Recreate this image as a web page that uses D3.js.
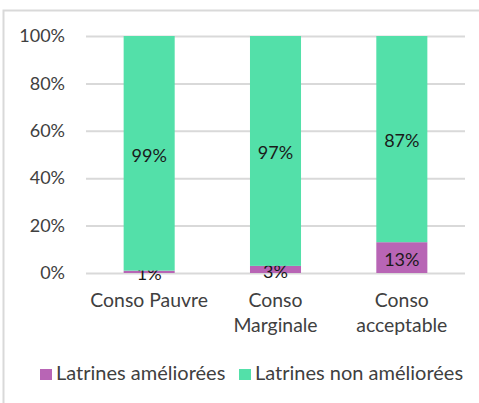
<!DOCTYPE html>
<html><head><meta charset="utf-8">
<script src="https://cdn.jsdelivr.net/npm/d3@7"></script>
<style>body{margin:0;background:#fff}svg{display:block;font-family:Lato,"Open Sans",sans-serif}</style>
</head><body><svg id="c" width="479" height="403"></svg>
<script>
const categories = [["Conso Pauvre"], ["Conso", "Marginale"], ["Conso", "acceptable"]];
const seriesNames = ["Latrines améliorées", "Latrines non améliorées"];
const ameliorees = [1, 3, 13];
const nonAmeliorees = [99, 97, 87];
const yTicks = [0, 20, 40, 60, 80, 100];
const colors = ["#B865B5", "#53E0A9"];

const svg = d3.select("#c");
const fs = 18;
svg.append("rect").attr("x", 3.5).attr("y", 10.5).attr("width", 500).attr("height", 420)
  .attr("fill", "none").attr("stroke", "#d9d9d9").attr("stroke-width", 2);

const x = d3.scaleBand().domain(d3.range(categories.length)).range([86, 465])
  .paddingInner(0.596).paddingOuter(0.298);
const y = d3.scaleLinear().domain([0, 100]).range([273, 36]);

const yAxis = d3.axisLeft(y).tickValues(yTicks).tickFormat(d => d + "%").tickSize(-(465 - 86)).tickPadding(21);
const gy = svg.append("g").attr("transform", "translate(86,0)").call(yAxis);
gy.select(".domain").remove();
gy.selectAll(".tick line").attr("stroke", "#d9d9d9").attr("stroke-width", 2);
gy.selectAll(".tick text").attr("fill", "#404040").attr("font-size", fs).attr("font-family", "Lato");

const stacks = d3.stack().keys([0, 1])(categories.map((c, i) => ({0: ameliorees[i], 1: nonAmeliorees[i]})));
stacks.forEach((s, k) => {
  const g = svg.append("g");
  g.selectAll("rect").data(s).join("rect")
    .attr("x", (d, i) => x(i)).attr("width", x.bandwidth())
    .attr("y", d => y(d[1])).attr("height", d => y(d[0]) - y(d[1]))
    .attr("fill", colors[k]);
  g.selectAll("text").data(s).join("text")
    .attr("x", (d, i) => x(i) + x.bandwidth() / 2)
    .attr("y", d => Math.min((y(d[0]) + y(d[1])) / 2 + 3, 275) - 1)
    .attr("dy", "0.35em").attr("text-anchor", "middle")
    .attr("fill", "#1a1a1a").attr("font-size", fs)
    .text(d => (d[1] - d[0]) + "%");
});

const gx = svg.append("g");
categories.forEach((lines, i) => {
  const t = gx.append("text").attr("x", x(i) + x.bandwidth() / 2).attr("y", 307)
    .attr("text-anchor", "middle").attr("fill", "#404040").attr("font-size", 19.4);
  lines.forEach((l, j) => t.append("tspan").attr("x", x(i) + x.bandwidth() / 2).attr("dy", j ? 25 : 0).text(l));
});

const legendX = [40, 239];
seriesNames.forEach((n, k) => {
  svg.append("rect").attr("x", legendX[k]).attr("y", 369).attr("width", 12).attr("height", 11).attr("fill", colors[k]);
  svg.append("text").attr("x", legendX[k] + 16).attr("y", 380).attr("fill", "#404040").attr("font-size", 20).text(n);
});
</script></body></html>
